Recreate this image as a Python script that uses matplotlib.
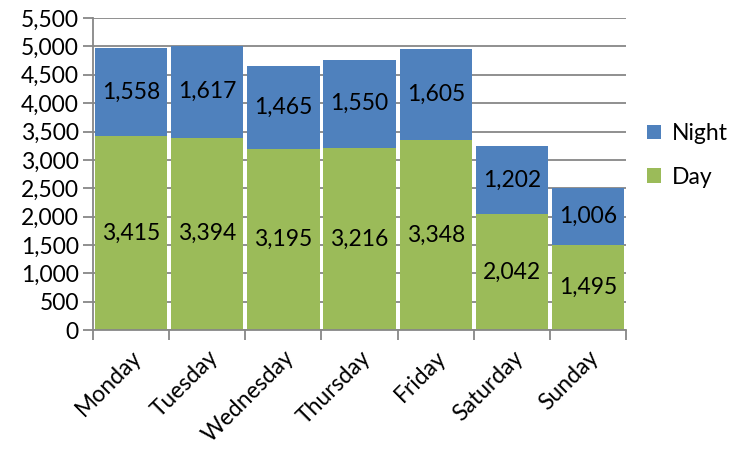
import matplotlib.pyplot as plt
import numpy as np

days = ['Monday', 'Tuesday', 'Wednesday', 'Thursday', 'Friday', 'Saturday', 'Sunday']
day_counts = [3415, 3394, 3195, 3216, 3348, 2042, 1495]
night_counts = [1558, 1617, 1465, 1550, 1605, 1202, 1006]

plt.rcParams['font.family'] = ['Lato', 'DejaVu Sans']
grey = '#878787'
fs = 16.5

fig = plt.figure(figsize=(7.3, 4.51), dpi=100)
ax = fig.add_axes([0.127, 0.268, 0.731, 0.692])

x = np.arange(len(days))
day = np.array(day_counts)
night = np.array(night_counts)

b1 = ax.bar(x, day, width=0.95, color='#9BBB59', label='Day', zorder=2)
b2 = ax.bar(x, night, width=0.95, bottom=day, color='#4F81BD', label='Night', zorder=2)

for bars, vals, base in ((b1, day, np.zeros_like(day)), (b2, night, day)):
    for rect, v, b in zip(bars, vals, base):
        ax.text(rect.get_x() + rect.get_width() / 2, b + v / 2, f'{v:,}',
                ha='center', va='center', fontsize=fs, color='black', zorder=3)

ax.set_xlim(-0.5, len(days) - 0.5)
ax.set_ylim(0, 5500)
ax.set_yticks(np.arange(0, 5501, 500))
ax.set_yticklabels([f'{v:,}' for v in range(0, 5501, 500)], fontsize=fs)
ax.yaxis.grid(True, color=grey, linewidth=1.3, zorder=0)
ax.set_axisbelow(True)

ax.set_xticks(x)
ax.set_xticklabels(days, rotation=45, ha='right', rotation_mode='anchor', fontsize=fs)
ax.tick_params(axis='x', length=0, pad=12)
ax.set_xticks(np.arange(-0.5, len(days)), minor=True)
ax.tick_params(axis='x', which='minor', length=7, width=1.3, color=grey)
ax.tick_params(axis='y', length=7, width=1.3, color=grey, pad=3)

for side in ('top', 'right'):
    ax.spines[side].set_visible(False)
for side in ('left', 'bottom'):
    ax.spines[side].set_color(grey)
    ax.spines[side].set_linewidth(1.3)

handles, labels = ax.get_legend_handles_labels()
ax.legend(handles[::-1], labels[::-1], loc='center left', bbox_to_anchor=(1.0, 0.56),
          frameon=False, fontsize=fs, handlelength=0.6, handleheight=0.6,
          handletextpad=0.5, labelspacing=1.0)

fig.savefig('out.png', dpi=100)
